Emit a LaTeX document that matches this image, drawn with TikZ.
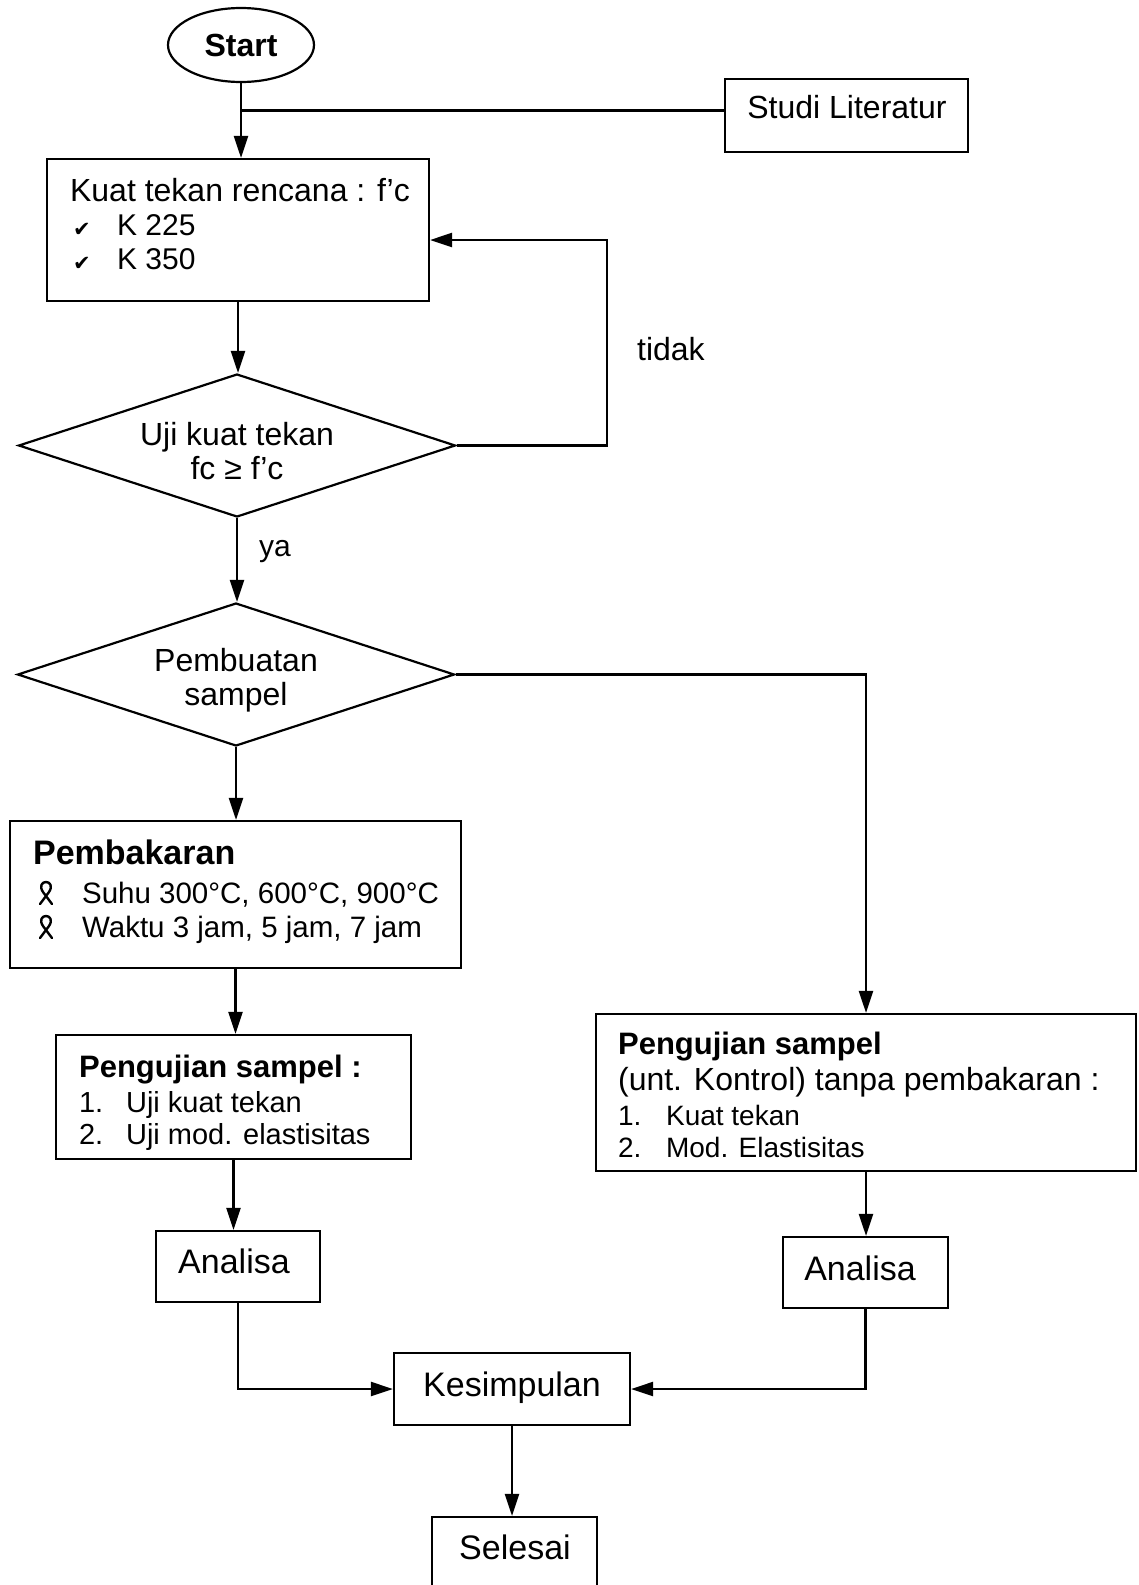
\documentclass[tikz,border=0pt]{standalone}
\usepackage{fontspec}
\setmainfont{Liberation Sans}
\newfontfamily\symfont{DejaVu Sans}
\usetikzlibrary{shapes.geometric,arrows.meta,calc}
\newcommand\fsz[1]{\fontsize{#1}{#1}\selectfont}
\begin{document}
\begin{tikzpicture}[x=1pt,y=-1pt,line width=2.2pt,
  boxshape/.style={draw,rectangle,inner sep=0pt},
  dshape/.style={draw,diamond,inner sep=0pt,minimum width=437pt,minimum height=143pt},
  arr/.style={-{Triangle[length=22pt,width=14pt]}},
  tl/.style={inner sep=0pt,anchor=base west},
  tc/.style={inner sep=0pt,anchor=base},
  ribbon/.pic={\draw[line width=2.4pt,line cap=round,line join=round]
     (-6,11) -- (3,-1) .. controls (7,-7) and (4,-11) .. (0,-11)
     .. controls (-4,-11) and (-7,-7) .. (-3,-1) -- (6,11);}]
\useasboundingbox (0,0) rectangle (1138,1585);

% shapes
\node[draw,ellipse,inner sep=0pt,minimum width=146pt,minimum height=74pt,font=\fsz{32}\bfseries] (start) at (241,45) {Start};
\node[boxshape,minimum width=243pt,minimum height=73pt] (studi) at (846.5,115.5) {};
\node[boxshape,minimum width=382pt,minimum height=142pt] (b1) at (238,230) {};
\node[dshape] (d1) at (237,445.5) {};
\node[dshape] (d2) at (236,674.5) {};
\node[boxshape,minimum width=451pt,minimum height=147pt] (pemb) at (235.5,894.5) {};
\node[boxshape,minimum width=355pt,minimum height=124pt] (p1) at (233.5,1097) {};
\node[boxshape,minimum width=540pt,minimum height=157pt] (p2) at (866,1092.5) {};
\node[boxshape,minimum width=164pt,minimum height=71pt] (a1) at (238,1266.5) {};
\node[boxshape,minimum width=165pt,minimum height=71pt] (a2) at (865.5,1272.5) {};
\node[boxshape,minimum width=236pt,minimum height=72pt] (kes) at (512,1389) {};
\node[boxshape,minimum width=165pt,minimum height=73pt] (sel) at (514.5,1553.5) {};

% texts
\node[tc,font=\fsz{32}] (tstudi) at (847,118) {Studi Literatur};
\node[tl,font=\fsz{32}] (tb1a) at (69,201) {Kuat tekan rencana : f’c};
\node[tl,font=\symfont\fsz{21}] (chk1) at (72,236) {✔};
\node[tl,font=\symfont\fsz{21}] (chk2) at (72,270) {✔};
\node[tl,font=\fsz{30}] (tb1b) at (116,235) {K 225};
\node[tl,font=\fsz{30}] (tb1c) at (116,269) {K 350};
\node[tc,font=\fsz{32}] (td1a) at (237,445) {Uji kuat tekan};
\node[tc,font=\fsz{32}] (td1b) at (237,479) {fc ≥ f’c};
\node[tl,font=\fsz{32}] (ttidak) at (636,360) {tidak};
\node[tl,font=\fsz{30}] (tya) at (258,556) {ya};
\node[tc,font=\fsz{32}] (td2a) at (236,671) {Pembuatan};
\node[tc,font=\fsz{32}] (td2b) at (236,705) {sampel};
\node[tl,font=\fsz{34}\bfseries] (tpa) at (32,864) {Pembakaran};
\pic at (46,893) {ribbon};
\pic at (46,927) {ribbon};
\node[tl,font=\fsz{29.5}] (tpb) at (81,903) {Suhu 300°C, 600°C, 900°C};
\node[tl,font=\fsz{29.5}] (tpc) at (81,937) {Waktu 3 jam, 5 jam, 7 jam};
\node[tl,font=\fsz{31}\bfseries] (tp1a) at (78,1077) {Pengujian sampel :};
\node[tl,font=\fsz{29}] (tp1n1) at (78,1112) {1.};
\node[tl,font=\fsz{29}] (tp1b) at (125,1112) {Uji kuat tekan};
\node[tl,font=\fsz{29}] (tp1n2) at (78,1144) {2.};
\node[tl,font=\fsz{29}] (tp1c) at (125,1144) {Uji mod. elastisitas};
\node[tl,font=\fsz{31}\bfseries] (tp2a) at (617,1054) {Pengujian sampel};
\node[tl,font=\fsz{32}] (tp2b) at (617,1090) {(unt. Kontrol) tanpa pembakaran :};
\node[tl,font=\fsz{28}] (tp2n1) at (617,1125) {1.};
\node[tl,font=\fsz{28}] (tp2c) at (665,1125) {Kuat tekan};
\node[tl,font=\fsz{28}] (tp2n2) at (617,1157) {2.};
\node[tl,font=\fsz{28}] (tp2d) at (665,1157) {Mod. Elastisitas};
\node[tc,font=\fsz{34}] (ta1) at (234,1273) {Analisa};
\node[tc,font=\fsz{34}] (ta2) at (860,1280) {Analisa};
\node[tc,font=\fsz{34}] (tkes) at (512,1396) {Kesimpulan};
\node[tc,font=\fsz{34}] (tsel) at (515,1559) {Selesai};

% connectors
\draw[arr] (start.south) -- (start.south |- b1.north);
\coordinate (sj) at ($(studi.west)+(0,-5)$);
\draw (sj) -- (sj -| start.south);
\draw[arr] (b1.south) -- (b1.south |- d1.north);
\coordinate (lp) at (607,240);
\draw[arr] (d1.east) -| (lp) -- (lp -| b1.east);
\draw[arr] (d1.south) -- (d1.south |- d2.north);
\draw[arr] (d2.east) -| (p2.north);
\draw[arr] (d2.south) -- (d2.south |- pemb.north);
\draw[arr] (pemb.south) -- (pemb.south |- p1.north);
\draw[arr] (p1.south) -- (p1.south |- a1.north);
\draw[arr] (a1.south) |- (kes.west);
\draw[arr] (p2.south) -- (p2.south |- a2.north);
\draw[arr] (a2.south) |- (kes.east);
\draw[arr] (kes.south) -- (kes.south |- sel.north);
\end{tikzpicture}
\end{document}
